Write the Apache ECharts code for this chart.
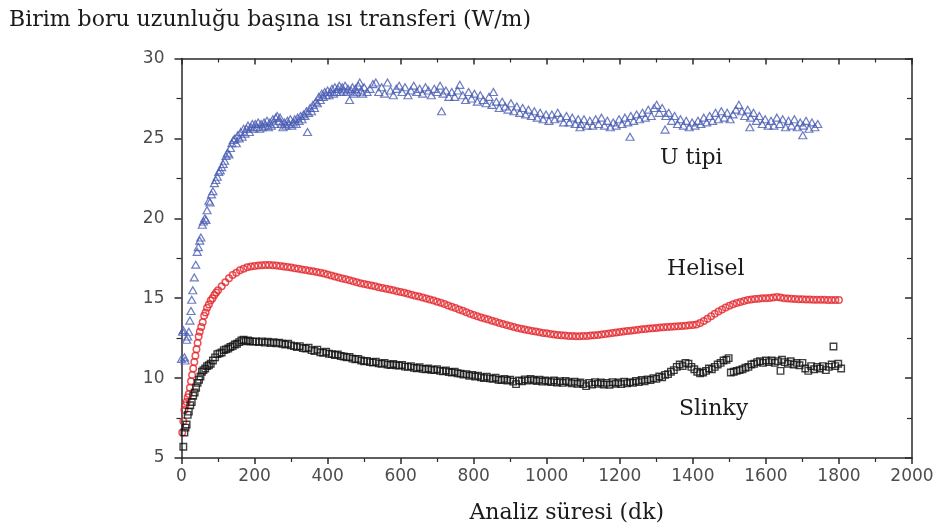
<!DOCTYPE html>
<html>
<head>
<meta charset="utf-8">
<script src="https://cdn.jsdelivr.net/npm/echarts@6/dist/echarts.min.js"></script>
<style>html,body{margin:0;padding:0;background:#fff}#c{width:940px;height:529px}</style>
</head>
<body>
<div id="c"></div>
<script>
// ---- data ----
const yTitle = 'Birim boru uzunluğu başına ısı transferi (W/m)';
const xTitle = 'Analiz süresi (dk)';
const seriesNames = ['U tipi', 'Helisel', 'Slinky'];

const uTime = [0,3,5,8,10,14,17,20,23,26,28,31,35,39,43,46,50,53,57,60,64,67,70,75,78,82,86,90,94,98,102,106,110,114,118,122,126,130,134,138,142,146,150,154,158,162,166,170,174,178,182,186,190,194,198,202,206,210,214,218,222,226,230,234,238,242,246,250,254,258,262,266,270,274,278,282,286,290,294,298,302,306,310,314,318,322,326,330,334,338,342,345,348,352,356,360,364,368,372,376,380,384,388,392,396,400,404,408,412,416,420,424,428,432,436,440,444,448,452,456,460,464,468,472,476,480,484,488,492,496,500,508,516,524,532,540,548,556,564,572,580,588,596,604,612,620,628,636,644,652,660,668,676,684,692,700,708,712,716,724,732,740,748,756,762,770,778,786,794,802,810,818,826,834,842,850,854,862,870,878,886,894,902,910,918,926,934,942,950,958,966,974,982,990,998,1006,1014,1022,1030,1038,1046,1054,1062,1070,1078,1086,1091,1094,1102,1110,1118,1126,1134,1142,1150,1158,1166,1174,1182,1190,1198,1206,1214,1222,1228,1230,1238,1246,1254,1262,1270,1278,1286,1294,1301,1308,1316,1324,1326,1334,1342,1350,1358,1366,1374,1382,1390,1398,1406,1414,1422,1430,1438,1446,1454,1462,1470,1478,1486,1494,1502,1510,1518,1526,1534,1542,1550,1556,1558,1566,1574,1582,1590,1598,1606,1614,1622,1630,1638,1646,1654,1662,1670,1678,1686,1694,1701,1702,1710,1718,1726,1734,1742];
const uVal = [11.2,12.9,13.0,11.3,11.1,12.4,12.6,12.9,13.6,14.2,14.9,15.5,16.3,17.1,17.9,18.2,18.6,18.8,19.6,19.8,20.0,19.9,20.5,21.1,21.0,21.5,21.7,22.2,22.4,22.6,22.9,23.0,23.2,23.4,23.6,23.9,24.1,24.0,24.4,24.7,24.9,25.0,24.7,25.2,25.0,25.4,25.1,25.6,25.3,25.6,25.8,25.4,25.7,25.9,25.6,25.9,25.7,26.0,25.6,25.9,25.7,26.0,25.8,26.1,25.7,26.0,25.8,26.2,25.9,26.3,26.4,26.1,26.3,25.9,25.7,26.0,25.8,26.1,25.9,26.2,25.8,26.0,26.2,25.9,26.3,26.1,26.4,26.2,26.5,26.4,26.7,25.4,26.6,26.9,26.7,27.1,26.9,27.3,27.2,27.6,27.4,27.8,27.6,27.9,27.7,28.0,27.7,27.9,28.1,27.8,28.2,27.9,28.1,28.3,27.9,28.2,28.0,28.3,27.9,28.1,27.4,28.0,28.2,27.8,28.1,27.9,28.3,28.5,28.0,27.8,28.2,27.9,28.1,28.4,28.5,27.9,28.2,27.8,28.5,28.0,27.7,28.1,28.3,27.9,28.2,27.7,28.0,28.3,27.9,28.1,27.8,28.2,28.0,27.7,28.1,27.9,28.3,26.7,27.8,28.0,27.6,27.9,27.6,28.0,28.35,27.7,27.4,27.9,27.5,27.8,27.3,27.7,27.4,27.2,27.6,27.1,27.9,27.3,26.9,27.3,27.0,26.8,27.2,26.7,27.0,26.6,26.9,26.5,26.8,26.4,26.7,26.3,26.6,26.2,26.5,26.1,26.5,26.2,26.6,26.3,26.0,26.4,26.0,26.3,25.9,26.2,25.7,25.9,26.2,25.8,26.1,25.8,26.2,25.9,26.3,25.8,26.1,25.7,26.0,25.8,26.2,25.9,26.3,26.0,25.1,26.4,26.1,26.5,26.2,26.6,26.3,26.8,26.4,26.9,27.1,26.6,26.9,25.55,26.4,26.6,26.1,26.4,25.9,26.2,25.8,26.1,25.7,26.0,25.8,26.1,25.9,26.3,26.0,26.4,26.1,26.6,26.2,26.7,26.3,26.6,26.2,26.5,26.8,27.1,26.7,26.4,26.8,25.7,26.3,26.6,26.1,26.4,25.9,26.2,25.8,26.1,25.8,26.3,25.9,26.2,25.7,26.1,25.8,26.2,25.7,26.0,25.2,25.8,26.1,25.6,26.0,25.7,25.9];

const hTime = [2,5,8,11,14,17,20,23,26,29,32,35,38,41,44,47,50,54,58,62,66,70,75,80,85,90,95,100,110,120,130,140,150,160,170,180,190,200,210,220,230,240,250,260,270,280,290,300,310,320,330,340,350,360,370,380,390,400,410,420,430,440,450,460,470,480,490,500,510,520,530,540,550,560,570,580,590,600,610,620,630,640,650,660,670,680,690,700,710,720,730,740,750,760,770,780,790,800,810,820,830,840,850,860,870,880,890,900,910,920,930,940,950,960,970,980,990,1000,1010,1020,1030,1040,1050,1060,1070,1080,1090,1100,1110,1120,1130,1140,1150,1160,1170,1180,1190,1200,1210,1220,1230,1240,1250,1260,1270,1280,1290,1300,1310,1320,1330,1340,1350,1360,1370,1380,1390,1400,1410,1420,1430,1440,1450,1460,1470,1480,1490,1500,1510,1520,1530,1540,1550,1560,1570,1580,1590,1600,1610,1620,1630,1640,1650,1660,1670,1680,1690,1700,1710,1720,1730,1740,1750,1760,1770,1780,1790,1800];
const hVal = [6.6,7.3,8.0,8.3,8.5,8.8,9.0,9.4,9.8,10.2,10.6,11.0,11.4,11.8,12.2,12.6,12.9,13.2,13.5,13.9,14.1,14.4,14.6,14.85,15.0,15.2,15.35,15.5,15.75,16.0,16.25,16.45,16.6,16.75,16.85,16.93,16.98,17.02,17.05,17.06,17.07,17.07,17.06,17.04,17.02,16.99,16.96,16.92,16.88,16.84,16.8,16.76,16.72,16.68,16.64,16.59,16.54,16.48,16.42,16.36,16.3,16.24,16.18,16.12,16.06,16.0,15.94,15.89,15.84,15.79,15.74,15.69,15.64,15.59,15.54,15.49,15.44,15.39,15.34,15.28,15.22,15.16,15.1,15.04,14.98,14.92,14.85,14.78,14.71,14.63,14.55,14.47,14.39,14.3,14.21,14.12,14.03,13.95,13.87,13.8,13.73,13.66,13.59,13.52,13.45,13.38,13.32,13.26,13.2,13.14,13.09,13.04,12.99,12.95,12.91,12.87,12.83,12.8,12.76,12.73,12.7,12.68,12.66,12.64,12.63,12.62,12.62,12.63,12.64,12.66,12.68,12.7,12.73,12.76,12.79,12.82,12.85,12.88,12.91,12.94,12.97,13.0,13.02,13.05,13.07,13.1,13.12,13.14,13.16,13.18,13.2,13.22,13.23,13.25,13.26,13.28,13.3,13.32,13.36,13.45,13.58,13.72,13.87,14.02,14.16,14.3,14.42,14.53,14.62,14.7,14.77,14.83,14.88,14.92,14.95,14.97,14.99,15.0,15.02,15.05,15.08,15.04,15.0,14.98,14.96,14.95,14.94,14.93,14.92,14.92,14.91,14.91,14.9,14.9,14.89,14.89,14.88,14.88];

const sTime = [5,8,11,14,17,20,24,28,32,36,40,44,48,52,56,60,65,70,75,80,86,92,98,104,110,116,122,128,134,140,146,152,158,164,170,176,182,188,196,204,212,220,228,236,244,252,260,268,276,284,292,300,308,316,324,332,340,348,356,364,372,380,388,396,404,412,420,428,436,444,452,460,468,476,484,492,500,508,516,524,532,540,548,556,564,572,580,588,596,604,612,620,628,636,644,652,660,668,676,684,692,700,708,716,724,732,740,748,756,764,772,780,788,796,804,812,820,828,836,844,852,860,868,876,884,892,900,908,916,924,932,940,948,956,964,972,980,988,996,1004,1012,1020,1028,1036,1044,1052,1060,1068,1076,1084,1092,1100,1108,1116,1124,1132,1140,1148,1156,1164,1172,1180,1188,1196,1204,1212,1220,1228,1236,1244,1252,1260,1268,1276,1284,1292,1300,1308,1316,1324,1332,1340,1348,1356,1364,1372,1380,1388,1396,1404,1412,1420,1428,1436,1444,1452,1460,1468,1476,1484,1492,1498,1504,1512,1520,1528,1536,1544,1552,1560,1568,1576,1584,1592,1600,1608,1616,1624,1632,1640,1644,1652,1660,1668,1676,1684,1692,1700,1708,1716,1724,1732,1740,1748,1756,1764,1772,1780,1785,1790,1798,1806];
const sVal = [5.7,6.6,6.9,7.1,7.7,7.9,8.3,8.5,8.9,9.1,9.4,9.7,9.9,10.1,10.4,10.5,10.6,10.75,10.8,10.9,11.1,11.3,11.5,11.55,11.6,11.75,11.8,11.85,11.95,12.0,12.1,12.15,12.25,12.35,12.4,12.3,12.35,12.3,12.28,12.3,12.25,12.3,12.22,12.28,12.2,12.25,12.18,12.22,12.15,12.1,12.15,12.05,12.0,11.95,12.0,11.88,11.85,11.9,11.75,11.7,11.78,11.62,11.58,11.65,11.52,11.5,11.45,11.48,11.38,11.35,11.3,11.32,11.22,11.18,11.2,11.1,11.05,11.08,11.0,10.98,11.02,10.92,10.9,10.95,10.85,10.82,10.88,10.8,10.78,10.82,10.72,10.7,10.75,10.65,10.62,10.68,10.58,10.55,10.6,10.52,10.5,10.55,10.45,10.42,10.48,10.38,10.35,10.4,10.3,10.28,10.22,10.25,10.15,10.2,10.1,10.15,10.05,10.0,10.08,9.98,9.95,10.02,9.9,9.88,9.95,9.85,9.9,9.78,9.62,9.85,9.8,9.92,9.85,9.95,9.88,9.82,9.9,9.78,9.85,9.8,9.75,9.85,9.72,9.8,9.7,9.82,9.75,9.68,9.78,9.65,9.72,9.62,9.5,9.7,9.6,9.75,9.65,9.72,9.6,9.7,9.58,9.75,9.65,9.72,9.62,9.78,9.68,9.75,9.7,9.82,9.75,9.88,9.8,9.92,9.88,10.0,9.95,10.1,10.05,10.2,10.25,10.4,10.5,10.7,10.85,10.75,10.95,10.9,10.7,10.55,10.4,10.3,10.35,10.45,10.6,10.55,10.7,10.85,10.95,11.1,11.15,11.25,10.35,10.4,10.45,10.5,10.55,10.65,10.7,10.85,10.9,11.0,11.05,10.95,11.1,11.0,11.1,10.95,11.05,10.45,11.15,11.0,10.9,11.05,10.85,10.95,10.8,10.95,10.6,10.45,10.75,10.55,10.7,10.6,10.75,10.5,10.7,10.85,11.98,10.75,10.9,10.6];

// ---- chart ----
const pair = (ts, vs) => ts.map((t, i) => [t, vs[i]]);
const plain = v => String(v);
const axisColor = '#2a2a2a';
const labelStyle = { fontFamily: 'DejaVu Sans', fontSize: 17, color: '#4d4d4d', formatter: plain };
const serif = 'DejaVu Serif';

const chart = echarts.init(document.getElementById('c'), null, { renderer: 'canvas' });
chart.setOption({
  animation: false,
  backgroundColor: '#ffffff',
  grid: { left: 181.5, right: 28, top: 58.5, bottom: 68.3, containLabel: false },
  xAxis: [
    { type: 'value', min: 0, max: 2000, interval: 200, position: 'bottom',
      axisLine: { onZero: false, lineStyle: { color: axisColor, width: 1.5 } },
      axisTick: { inside: false, length: 6, lineStyle: { color: axisColor, width: 1.5 } },
      minorTick: { show: true, splitNumber: 2, length: 4, lineStyle: { color: axisColor, width: 1.2 } },
      splitLine: { show: false },
      axisLabel: Object.assign({ margin: 10 }, labelStyle),
      name: xTitle, nameLocation: 'middle', nameGap: 44,
      nameTextStyle: { fontFamily: serif, fontSize: 22, color: '#1a1a1a', padding: [0, 0, 0, 40] } },
    { type: 'value', min: 0, max: 2000, interval: 200, position: 'top',
      axisLine: { onZero: false, lineStyle: { color: axisColor, width: 1.5 } },
      axisTick: { inside: true, length: 6, lineStyle: { color: axisColor, width: 1.5 } },
      minorTick: { show: true, splitNumber: 2, length: 4, lineStyle: { color: axisColor, width: 1.2 } },
      splitLine: { show: false }, axisLabel: { show: false } }
  ],
  yAxis: [
    { type: 'value', min: 5, max: 30, interval: 5, position: 'left',
      axisLine: { show: true, onZero: false, lineStyle: { color: axisColor, width: 1.5 } },
      axisTick: { show: true, inside: false, length: 7, lineStyle: { color: axisColor, width: 1.5 } },
      minorTick: { show: true, splitNumber: 2, length: 5, lineStyle: { color: axisColor, width: 1.2 } },
      splitLine: { show: false },
      axisLabel: Object.assign({ margin: 17 }, labelStyle) },
    { type: 'value', min: 5, max: 30, interval: 5, position: 'right',
      axisLine: { show: true, onZero: false, lineStyle: { color: axisColor, width: 1.5 } },
      axisTick: { show: true, inside: true, length: 7, lineStyle: { color: axisColor, width: 1.5 } },
      minorTick: { show: true, splitNumber: 2, length: 5, lineStyle: { color: axisColor, width: 1.2 } },
      splitLine: { show: false }, axisLabel: { show: false } }
  ],
  series: [
    { name: seriesNames[0], type: 'scatter', xAxisIndex: 0, yAxisIndex: 0,
      symbol: 'triangle', symbolSize: [8, 7],
      itemStyle: { color: 'rgba(255,255,255,0)', borderColor: '#4a5db3', borderWidth: 1.2 },
      data: pair(uTime, uVal) },
    { name: seriesNames[1], type: 'scatter', xAxisIndex: 0, yAxisIndex: 0,
      symbol: 'circle', symbolSize: 6.5,
      itemStyle: { color: 'rgba(255,255,255,0)', borderColor: '#e3262b', borderWidth: 1.5 },
      data: pair(hTime, hVal) },
    { name: seriesNames[2], type: 'scatter', xAxisIndex: 0, yAxisIndex: 0,
      symbol: 'rect', symbolSize: 6.5,
      itemStyle: { color: 'rgba(255,255,255,0)', borderColor: '#111111', borderWidth: 1.4 },
      data: pair(sTime, sVal) }
  ],
  graphic: [
    { type: 'text', left: 9, top: 9, style: { text: yTitle, font: '22px "DejaVu Serif"', fill: '#1a1a1a' } },
    { type: 'text', left: 660, top: 147, style: { text: seriesNames[0], font: '22px "DejaVu Serif"', fill: '#1a1a1a' } },
    { type: 'text', left: 667, top: 258, style: { text: seriesNames[1], font: '22px "DejaVu Serif"', fill: '#1a1a1a' } },
    { type: 'text', left: 679, top: 398, style: { text: seriesNames[2], font: '22px "DejaVu Serif"', fill: '#1a1a1a' } }
  ]
});
</script>
</body>
</html>
